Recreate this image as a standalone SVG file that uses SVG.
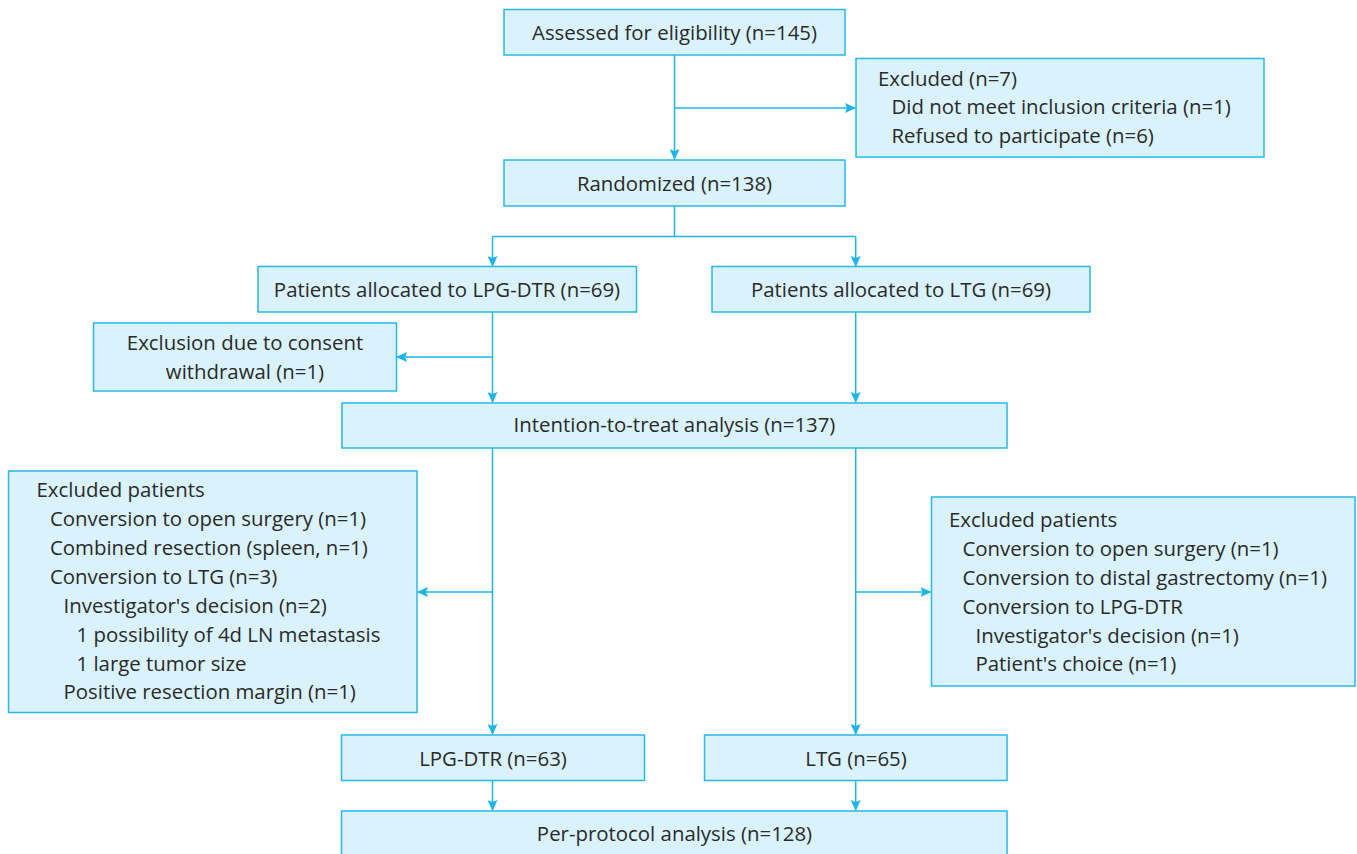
<svg xmlns="http://www.w3.org/2000/svg" width="1357" height="854" viewBox="0 0 1357 854">
<style>
.box{fill:#d9f2fb;stroke:#29b8ea;stroke-width:1.5}
.t{font-family:"Open Sans","Noto Sans","Liberation Sans",sans-serif;font-size:20.4px;fill:#2a2a2a}
.c{text-anchor:middle}
.ln{fill:none;stroke:#1db5ec;stroke-width:1.5}
</style>
<defs>
<marker id="ah" markerWidth="12" markerHeight="10" refX="10" refY="5" orient="auto" markerUnits="userSpaceOnUse">
<path d="M0,0 L11,5 L0,10 L2,5 z" fill="#1db5ec"/>
</marker>
</defs>
<rect width="1357" height="854" fill="#ffffff"/>
<g id="connectors">
<path class="ln" d="M674.5,55 V159" marker-end="url(#ah)"/>
<path class="ln" d="M674.5,108 H855" marker-end="url(#ah)"/>
<path class="ln" d="M674.5,206 V236.5 M492.5,236.5 H855.7"/>
<path class="ln" d="M492.5,236.5 V266" marker-end="url(#ah)"/>
<path class="ln" d="M855.7,236.5 V266" marker-end="url(#ah)"/>
<path class="ln" d="M492.5,312 V402" marker-end="url(#ah)"/>
<path class="ln" d="M492.5,357 H397" marker-end="url(#ah)"/>
<path class="ln" d="M855.7,312 V402" marker-end="url(#ah)"/>
<path class="ln" d="M492.5,448 V734" marker-end="url(#ah)"/>
<path class="ln" d="M492.5,592 H418" marker-end="url(#ah)"/>
<path class="ln" d="M855.7,448 V734" marker-end="url(#ah)"/>
<path class="ln" d="M855.7,592 H930.5" marker-end="url(#ah)"/>
<path class="ln" d="M492.5,781 V810" marker-end="url(#ah)"/>
<path class="ln" d="M855.7,781 V810" marker-end="url(#ah)"/>
</g>
<g id="assessed">
<rect class="box" x="504" y="9.5" width="341" height="45.5"/>
<text class="t c" x="674.5" y="39.5">Assessed for eligibility (n=145)</text>
</g>
<g id="excluded">
<rect class="box" x="856" y="58.5" width="408" height="98.5"/>
<text class="t" x="878" y="85.5">Excluded (n=7)</text>
<text class="t" x="891.5" y="114">Did not meet inclusion criteria (n=1)</text>
<text class="t" x="891.5" y="142.5">Refused to participate (n=6)</text>
</g>
<g id="randomized">
<rect class="box" x="504" y="160" width="341" height="46"/>
<text class="t c" x="674.5" y="190.5">Randomized (n=138)</text>
</g>
<g id="alloc-lpg">
<rect class="box" x="258" y="266.5" width="378.5" height="45.5"/>
<text class="t c" x="447" y="296.5">Patients allocated to LPG-DTR (n=69)</text>
</g>
<g id="alloc-ltg">
<rect class="box" x="712" y="266.5" width="378" height="45.5"/>
<text class="t c" x="901" y="296.5">Patients allocated to LTG (n=69)</text>
</g>
<g id="consent">
<rect class="box" x="93.5" y="323" width="303" height="68"/>
<text class="t c" x="245" y="350">Exclusion due to consent</text>
<text class="t c" x="245" y="379">withdrawal (n=1)</text>
</g>
<g id="itt">
<rect class="box" x="342" y="403" width="665" height="45"/>
<text class="t c" x="674.5" y="431.5">Intention-to-treat analysis (n=137)</text>
</g>
<g id="excl-left">
<rect class="box" x="8.5" y="471" width="408.5" height="241.5"/>
<text class="t" x="36.5" y="497">Excluded patients</text>
<text class="t" x="50" y="526">Conversion to open surgery (n=1)</text>
<text class="t" x="50" y="555">Combined resection (spleen, n=1)</text>
<text class="t" x="50" y="584">Conversion to LTG (n=3)</text>
<text class="t" x="63.5" y="612.5">Investigator's decision (n=2)</text>
<text class="t" x="76.5" y="641.5">1 possibility of 4d LN metastasis</text>
<text class="t" x="76.5" y="670.5">1 large tumor size</text>
<text class="t" x="63.5" y="699">Positive resection margin (n=1)</text>
</g>
<g id="excl-right">
<rect class="box" x="931.5" y="497" width="423.5" height="189"/>
<text class="t" x="949" y="526.5">Excluded patients</text>
<text class="t" x="962.5" y="555.5">Conversion to open surgery (n=1)</text>
<text class="t" x="962.5" y="584.5">Conversion to distal gastrectomy (n=1)</text>
<text class="t" x="962.5" y="613.5">Conversion to LPG-DTR</text>
<text class="t" x="975.5" y="642.5">Investigator's decision (n=1)</text>
<text class="t" x="975.5" y="671">Patient's choice (n=1)</text>
</g>
<g id="lpg63">
<rect class="box" x="341.5" y="735" width="303" height="45.5"/>
<text class="t c" x="493" y="765.5">LPG-DTR (n=63)</text>
</g>
<g id="ltg65">
<rect class="box" x="704.5" y="735" width="302.5" height="45.5"/>
<text class="t c" x="856" y="765.5">LTG (n=65)</text>
</g>
<g id="perprotocol">
<rect class="box" x="341.5" y="811" width="665.5" height="50"/>
<text class="t c" x="674.5" y="840.5">Per-protocol analysis (n=128)</text>
</g>
</svg>
